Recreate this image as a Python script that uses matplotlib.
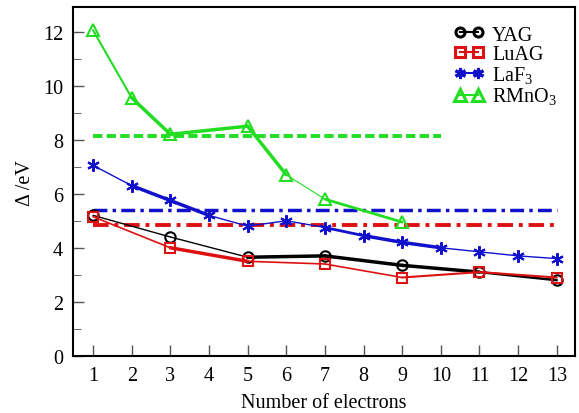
import matplotlib
matplotlib.use("Agg")
import matplotlib.pyplot as plt

plt.rcParams["font.family"] = ["Liberation Serif", "DejaVu Serif"]
plt.rcParams["mathtext.fontset"] = "custom"
plt.rcParams["mathtext.rm"] = "Liberation Serif"

# data
yag_x = [1, 3, 5, 7, 9, 11, 13]
yag_y = [5.2, 4.4, 3.65, 3.7, 3.35, 3.1, 2.8]
luag_x = [1, 3, 5, 7, 9, 11, 13]
luag_y = [5.15, 4.0, 3.5, 3.4, 2.9, 3.1, 2.9]
laf3_x = [1, 2, 3, 4, 5, 6, 7, 8, 9, 10, 11, 12, 13]
laf3_y = [7.05, 6.3, 5.75, 5.2, 4.8, 5.0, 4.75, 4.45, 4.2, 4.0, 3.85, 3.7, 3.6]
rmno3_x = [1, 2, 3, 5, 6, 7, 9]
rmno3_y = [12.05, 9.55, 8.2, 8.5, 6.7, 5.8, 4.95]

# reference levels (x start, x end, value)
rmno3_ref = (1, 10, 8.15)
laf3_ref = (1, 13, 5.4)
luag_ref = (1, 13, 4.85)

xticks = list(range(1, 14))
yticks = [0, 2, 4, 6, 8, 10, 12]

# per-segment line widths (the original has uneven strokes)
yag_lw = [1.0, 1.0, 2.5, 2.5, 2.5, 1.8]
luag_lw = [1.2, 2.5, 1.2, 1.2, 1.5, 1.5]
laf3_lw = [1.0, 2.5, 2.5, 1.0, 1.0, 1.0, 2.0, 2.5, 2.5, 1.0, 1.0, 1.0]
rmno3_lw = [1.5, 2.5, 2.5, 2.5, 0.8, 2.0]

fig, ax = plt.subplots(figsize=(5.79, 4.14), dpi=100)
fig.subplots_adjust(left=0.126, right=0.993, top=0.98, bottom=0.138)


def draw(xs, ys, lws, color, marker, ms, label):
    for i in range(len(xs) - 1):
        ax.plot(xs[i:i + 2], ys[i:i + 2], color=color, lw=lws[i], solid_capstyle="round")
    ax.plot(xs, ys, ls="none", marker=marker, ms=ms, mfc="none", mec=color, mew=1.5)
    ax.plot([], [], color=color, lw=1.5, marker=marker, ms=ms - 1, mfc="none", mec=color,
            mew=2.2, label=label)


ax.hlines(rmno3_ref[2], rmno3_ref[0], rmno3_ref[1], colors="#22dd22", lw=2.8,
          linestyles=(0, (2.4, 1.1)))
ax.hlines(laf3_ref[2], laf3_ref[0], laf3_ref[1], colors="#1111cc", lw=2.5,
          linestyles=(0, (4, 1.5, 1, 1.5)))
ax.hlines(luag_ref[2], luag_ref[0], luag_ref[1], colors="#dd1111", lw=2.8,
          linestyles=(0, (4, 1.5, 1, 1.5)))

draw(yag_x, yag_y, yag_lw, "black", "o", 7.5, "YAG")
draw(luag_x, luag_y, luag_lw, "#dd1111", "s", 7.5, "LuAG")
draw(laf3_x, laf3_y, laf3_lw, "#1111cc", (6, 2, 0), 9, "LaF$_3$")
draw(rmno3_x, rmno3_y, rmno3_lw, "#22dd22", "^", 9, "RMnO$_3$")

ax.set_xlim(0.48, 13.47)
ax.set_ylim(0, 12.9)
ax.set_xticks(xticks)
ax.set_yticks(yticks)
ax.set_yticks([1, 3, 5, 7, 9, 11], minor=True)
ax.tick_params(axis="both", direction="in", labelsize=14.5, length=8, width=1, pad=7,
               color="#555555")
ax.tick_params(axis="y", which="minor", direction="in", length=6, color="#555555")
ax.tick_params(axis="x", pad=7)
for s in ax.spines.values():
    s.set_linewidth(1.5)

ax.set_xlabel("Number of electrons", fontsize=14.5, labelpad=6)
ax.set_ylabel("Δ /eV", fontsize=14.5, labelpad=6)

ax.legend(loc="upper right", frameon=False, fontsize=14.5, numpoints=2,
          handlelength=1.5, handletextpad=0.4, labelspacing=0.02,
          borderaxespad=0.5)

fig.savefig("out.png", dpi=100)
